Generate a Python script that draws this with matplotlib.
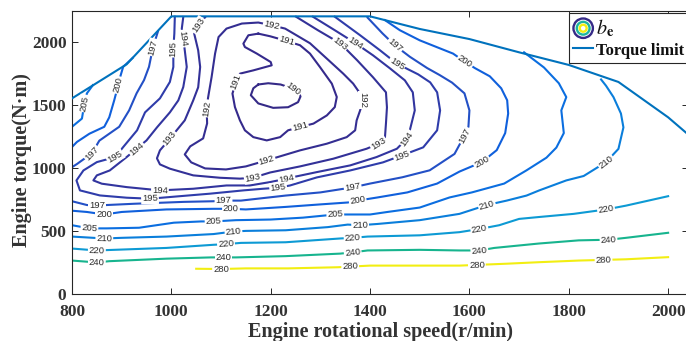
import numpy as np
import matplotlib
matplotlib.use('Agg')
import matplotlib.pyplot as plt
from matplotlib.legend_handler import HandlerBase
from matplotlib.lines import Line2D
from matplotlib.patches import Circle

# BSFC iso-lines (g/kWh): engine speed (r/min) and torque (N·m) along each line
c190_s = [1175, 1195, 1220, 1235, 1255, 1260, 1255, 1235, 1205, 1175, 1160, 1165, 1175]
c190_t = [1660, 1670, 1660, 1640, 1605, 1565, 1520, 1480, 1475, 1510, 1575, 1630, 1660]
c190_lab = [(1245, 1622)]

c191_s = [1175, 1155, 1145, 1148, 1172, 1200, 1202, 1165, 1138, 1130, 1123, 1128, 1138, 1148, 1165,
          1192, 1219, 1235, 1259, 1286, 1313, 1329, 1333, 1323, 1299, 1279, 1259, 1232, 1199, 1175]
c191_t = [2063, 2050, 1984, 1957, 1905, 1838, 1812, 1772, 1746, 1680, 1588, 1481, 1376, 1297, 1243,
          1217, 1243, 1297, 1323, 1350, 1415, 1481, 1561, 1667, 1799, 1905, 1971, 2005, 2042, 2063]
c191_lab = [(1130, 1680), (1259, 1323), (1232, 2005)]

c192_s = [1071, 1074, 1081, 1088, 1095, 1111, 1142, 1175, 1202, 1229, 1245, 1279, 1313, 1346, 1366,
          1380, 1386, 1380, 1373, 1370, 1353, 1313, 1259, 1225, 1192, 1150, 1110, 1068, 1040, 1027,
          1038, 1064, 1072, 1071]
c192_t = [1471, 1558, 1719, 1905, 2036, 2103, 2143, 2151, 2129, 2103, 2066, 1987, 1865, 1746, 1667,
          1588, 1534, 1455, 1376, 1297, 1243, 1191, 1138, 1098, 1059, 1011, 987, 995, 1043, 1106,
          1170, 1233, 1352, 1471]
c192_lab = [(1071, 1471), (1202, 2129), (1386, 1534), (1192, 1059)]

c193_s = [1068, 1054, 1046, 1054, 1058, 1054, 1044, 1027, 997, 977, 971, 977, 997, 1044, 1098, 1138,
          1164, 1199, 1259, 1326, 1393, 1417, 1430, 1432, 1434, 1432, 1406, 1374, 1340, 1295, 1251]
c193_t = [2193, 2129, 2063, 1931, 1799, 1638, 1534, 1376, 1231, 1138, 1075, 1027, 993, 940, 921, 914,
          921, 963, 1011, 1072, 1151, 1191, 1243, 1352, 1479, 1598, 1717, 1852, 1986, 2090, 2197]
c193_lab = [(1054, 2129), (997, 1231), (1164, 921), (1417, 1191), (1340, 1986)]

c194_s = [1024, 1021, 1024, 1027, 1031, 1024, 1014, 997, 971, 950, 930, 910, 876, 850, 843, 860, 910,
          977, 1044, 1111, 1158, 1199, 1232, 1252, 1293, 1360, 1413, 1454, 1474, 1480, 1490, 1486,
          1470, 1440, 1406, 1370, 1329, 1285]
c194_t = [2195, 2103, 2024, 1931, 1799, 1640, 1534, 1439, 1320, 1217, 1151, 1085, 979, 940, 900, 874,
          847, 821, 834, 860, 860, 887, 914, 932, 966, 1019, 1085, 1151, 1231, 1297, 1455, 1598,
          1693, 1788, 1891, 1989, 2090, 2197]
c194_lab = [(1024, 2024), (930, 1151), (977, 821), (1232, 914), (1474, 1231), (1370, 1989)]

c195_s = [1007, 1006, 1004, 1004, 997, 977, 947, 931, 903, 887, 850, 823, 809, 816, 856, 910, 957,
          1011, 1078, 1145, 1185, 1215, 1239, 1293, 1360, 1426, 1464, 1507, 1535, 1541, 1535, 1521,
          1497, 1454, 1420, 1380, 1329]
c195_t = [2197, 2063, 1944, 1799, 1680, 1550, 1439, 1297, 1164, 1085, 1045, 979, 900, 821, 781, 763,
          755, 773, 795, 821, 834, 842, 860, 924, 979, 1043, 1098, 1162, 1297, 1455, 1598, 1677,
          1740, 1825, 1931, 2050, 2197]
c195_lab = [(1004, 1944), (887, 1085), (957, 755), (1215, 842), (1464, 1098), (1454, 1825)]

c197a_s = [800, 810, 840, 855, 895, 915, 930, 945, 955, 963, 973]
c197a_t = [1005, 1030, 1115, 1215, 1325, 1455, 1590, 1695, 1800, 1955, 2080]
c197a_lab = [(840, 1115), (963, 1955)]

c197b_s = [800, 830, 850, 870, 925, 1025, 1085, 1105, 1140, 1230, 1300, 1365, 1400, 1465, 1520,
           1570, 1590, 1598, 1600, 1590, 1565, 1540, 1515, 1480, 1450, 1425, 1395]
c197b_t = [735, 705, 700, 705, 715, 730, 735, 740, 740, 780, 805, 845, 875, 925, 980, 1110, 1255,
           1325, 1455, 1590, 1675, 1735, 1790, 1880, 1970, 2065, 2190]
c197b_lab = [(850, 700), (1105, 740), (1365, 845), (1590, 1255), (1450, 1970)]

c200a_s = [800, 810, 835, 865, 875, 885, 893, 897, 903, 922]
c200a_t = [1165, 1205, 1270, 1325, 1400, 1535, 1655, 1720, 1800, 1870]
c200a_lab = [(893, 1655)]

c200b_s = [800, 830, 865, 900, 990, 1085, 1120, 1150, 1230, 1300, 1355, 1375, 1415, 1475, 1535,
           1580, 1625, 1655, 1672, 1678, 1676, 1664, 1641, 1611, 1591, 1567, 1500, 1460, 1430]
c200b_t = [660, 650, 630, 650, 670, 675, 675, 670, 690, 710, 725, 740, 765, 805, 875, 970, 1045,
           1140, 1275, 1430, 1535, 1630, 1725, 1790, 1840, 1905, 2010, 2090, 2170]
c200b_lab = [(865, 630), (1120, 675), (1375, 740), (1625, 1045), (1591, 1840)]

c205a_s = [800, 835, 870, 935, 1005, 1060, 1085, 1130, 1200, 1265, 1330, 1400, 1435, 1500, 1560,
           1605, 1670, 1715, 1755, 1775, 1790, 1785, 1795, 1780, 1750, 1710]
c205a_t = [545, 520, 520, 525, 565, 575, 575, 585, 590, 605, 630, 630, 650, 685, 765, 805, 875, 980,
           1080, 1160, 1275, 1455, 1560, 1670, 1795, 1915]
c205a_lab = [(835, 520), (1085, 575), (1330, 630)]

c205b_s = [800, 820, 825, 830, 842]
c205b_t = [1325, 1390, 1510, 1590, 1655]
c205b_lab = [(825, 1510)]

c210_s = [800, 865, 900, 990, 1085, 1125, 1150, 1230, 1315, 1355, 1380, 1415, 1500, 1580, 1635,
          1675, 1715, 1740, 1795, 1830, 1875, 1900, 1910, 1905, 1890, 1875, 1865]
c210_t = [455, 440, 445, 455, 475, 495, 500, 505, 530, 550, 545, 555, 585, 635, 705, 740, 780, 820,
          900, 935, 1045, 1150, 1320, 1430, 1560, 1650, 1700]
c210_lab = [(865, 440), (1125, 495), (1380, 545), (1635, 705), (1875, 1045)]

c220_s = [800, 850, 885, 990, 1085, 1110, 1140, 1230, 1340, 1365, 1395, 1500, 1580, 1620, 1660,
          1700, 1740, 1810, 1875, 1915, 2000]
c220_t = [360, 345, 350, 365, 390, 395, 405, 410, 440, 445, 455, 465, 490, 515, 545, 595, 610, 635,
          670, 700, 775]
c220_lab = [(850, 345), (1110, 395), (1365, 445), (1620, 515), (1875, 670)]

c240_s = [800, 850, 875, 990, 1080, 1105, 1130, 1230, 1340, 1365, 1395, 1500, 1580, 1620, 1650,
          1740, 1820, 1880, 1915, 2000]
c240_t = [265, 250, 260, 280, 290, 290, 290, 300, 320, 330, 345, 350, 345, 345, 365, 400, 425, 430,
          445, 485]
c240_lab = [(850, 250), (1105, 290), (1365, 330), (1620, 345), (1880, 430)]

c280_s = [1050, 1100, 1150, 1235, 1335, 1400, 1500, 1580, 1675, 1740, 1820, 1915, 2000]
c280_t = [200, 198, 203, 203, 212, 225, 225, 225, 240, 252, 265, 275, 292]
c280_lab = [(1100, 198), (1360, 218), (1615, 230), (1870, 270)]

# full-load torque curve
limit_s = [800, 910, 1000, 1400, 1500, 1600, 1700, 1800, 1900, 2000, 2040]
limit_t = [1550, 1820, 2200, 2200, 2100, 2020, 1915, 1815, 1680, 1400, 1265]

level_colors = {190: '#352a87', 191: '#352a8c', 192: '#342e92', 193: '#333198', 194: '#32359f',
                195: '#2f3caa', 197: '#2350c6', 200: '#1060dc', 205: '#0b6ee0', 210: '#0a7edb',
                220: '#0d9ad4', 240: '#17b48e', 280: '#f2ee12'}

lines = [
    (190, c190_s, c190_t, c190_lab), (191, c191_s, c191_t, c191_lab),
    (192, c192_s, c192_t, c192_lab), (193, c193_s, c193_t, c193_lab),
    (194, c194_s, c194_t, c194_lab), (195, c195_s, c195_t, c195_lab),
    (197, c197a_s, c197a_t, c197a_lab), (197, c197b_s, c197b_t, c197b_lab),
    (200, c200a_s, c200a_t, c200a_lab), (200, c200b_s, c200b_t, c200b_lab),
    (205, c205a_s, c205a_t, c205a_lab), (205, c205b_s, c205b_t, c205b_lab),
    (210, c210_s, c210_t, c210_lab), (220, c220_s, c220_t, c220_lab),
    (240, c240_s, c240_t, c240_lab), (280, c280_s, c280_t, c280_lab),
]

plt.rcParams['mathtext.fontset'] = 'stix'
TXT = '#333333'


class ContourIcon:
    pass


class ContourIconHandler(HandlerBase):
    def create_artists(self, legend, orig_handle, xdescent, ydescent, width, height, fontsize, trans):
        cx = width / 2 - xdescent
        cy = height / 2 - ydescent
        arts = []
        for r, col in [(7.0, '#352a87'), (4.6, '#1db5a0'), (2.5, '#f2ee12')]:
            arts.append(Circle((cx, cy), r, fill=False, ec=col, lw=1.7, transform=trans))
        return arts


def put_label(ax, xs, ys, x0, y0, text):
    # rotate the label along the local direction of its line
    pts = ax.transData.transform(np.column_stack([xs, ys]))
    p0 = ax.transData.transform((x0, y0))
    i = int(np.argmin(np.hypot(*(pts - p0).T)))
    a, b = pts[max(i - 1, 0)], pts[min(i + 1, len(pts) - 1)]
    ang = np.degrees(np.arctan2(b[1] - a[1], b[0] - a[0]))
    if ang > 90:
        ang -= 180
    elif ang < -90:
        ang += 180
    ax.text(x0, y0, text, rotation=ang, rotation_mode='anchor', ha='center', va='center',
            fontsize=6.8, family='Liberation Sans', color='#2a2a2a', zorder=4,
            bbox=dict(fc='white', ec='none', pad=0.7))


fig = plt.figure(figsize=(6.86, 3.41), dpi=100)
ax = fig.add_axes([72 / 686, 47 / 341, 616 / 686, 282.7 / 341])
ax.set_xlim(800, 2040)
ax.set_ylim(0, 2240)

for lev, s, t, labs in lines:
    ax.plot(s, t, color=level_colors[lev], lw=1.5, zorder=2, solid_joinstyle='round')
    for x0, y0 in labs:
        put_label(ax, s, t, x0, y0, str(lev))

ax.plot(limit_s, limit_t, color='#0072bd', lw=1.5, zorder=3)

ax.set_xticks([800, 1000, 1200, 1400, 1600, 1800, 2000])
ax.set_yticks([0, 500, 1000, 1500, 2000])
ax.tick_params(direction='in', length=4, width=0.7, top=True, right=True, colors='#262626',
               labelcolor=TXT, labelsize=12.5, pad=4)
ax.tick_params(axis='x', pad=7.5)
for lab in ax.get_xticklabels() + ax.get_yticklabels():
    lab.set_family('Liberation Serif')
    lab.set_fontweight('bold')
for sp in ax.spines.values():
    sp.set_linewidth(0.8)
    sp.set_color('#262626')

ax.set_xlabel('Engine rotational speed(r/min)', family='Liberation Serif', fontweight='bold',
              fontsize=14.5, color=TXT)
ax.set_ylabel('Engine torque(N·m)', family='Liberation Serif', fontweight='bold',
              fontsize=14.5, color=TXT)
ax.xaxis.set_label_coords(0.5, -0.1)
ax.yaxis.set_label_coords(-0.065, 0.475)

handles = [ContourIcon(), Line2D([], [], color='#0072bd', lw=1.5)]
leg = ax.legend(handles, [r'$\mathit{b}_{\mathbf{e}}$', 'Torque limit'],
                handler_map={ContourIcon: ContourIconHandler()},
                loc='upper left', bbox_to_anchor=(569 / 686, 1 - 13 / 341),
                bbox_transform=fig.transFigure, borderaxespad=0,
                prop=dict(family='Liberation Serif', weight='bold', size=12),
                handlelength=1.2, handleheight=1.15, handletextpad=0.15, borderpad=0.25,
                labelspacing=0.15, fancybox=False, framealpha=1, edgecolor='#262626')
leg.get_frame().set_linewidth(0.8)
for txt in leg.get_texts():
    txt.set_color('#111111')
leg.get_texts()[0].set_fontsize(14.5)
leg.set_zorder(10)

fig.savefig('out.png', dpi=100)
